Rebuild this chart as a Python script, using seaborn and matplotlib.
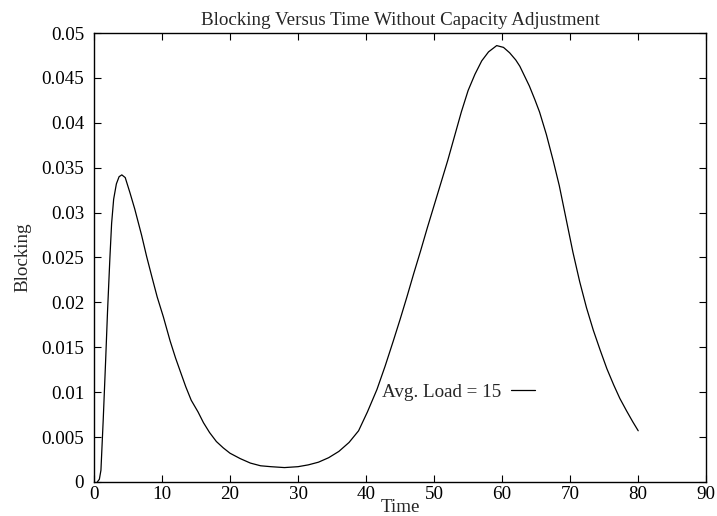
import matplotlib
matplotlib.use("Agg")
import matplotlib.pyplot as plt
import seaborn as sns
import pandas as pd

time = [0.5, 0.8, 1.03, 1.37, 1.72, 2.0, 2.35, 2.6, 2.9, 3.3, 3.7, 4.1, 4.6, 5.3,
        6.0, 7.0, 7.75, 8.5, 9.3, 10.2, 11.2, 12.0, 12.7, 13.5, 14.3, 15.3, 16.1,
        17.0, 18.0, 19.0, 20.0, 21.5, 23.0, 24.5, 26.0, 28.0, 30.0, 31.5, 33.0,
        34.5, 36.0, 37.5, 38.9, 40.2, 41.6, 42.8, 44.0, 45.0, 46.0, 47.0, 48.0,
        49.0, 50.0, 51.0, 52.0, 53.0, 54.0, 55.0, 56.0, 57.0, 58.0, 59.2, 60.2,
        61.1, 62.0, 62.6, 63.3, 64.0, 64.8, 65.5, 66.5, 67.5, 68.4, 69.4, 70.4,
        71.4, 72.4, 73.4, 74.4, 75.4, 76.4, 77.3, 78.3, 79.2, 80.0]
blocking = [0.0, 0.0003, 0.0013, 0.0070, 0.0135, 0.0190, 0.0250, 0.0288, 0.0315,
            0.0332, 0.0340, 0.0342, 0.0339, 0.0322, 0.0304, 0.0275, 0.0251, 0.0229,
            0.0206, 0.0184, 0.0157, 0.0138, 0.0123, 0.0106, 0.0091, 0.0078, 0.0066,
            0.0055, 0.0045, 0.0038, 0.0032, 0.0026, 0.0021, 0.0018, 0.0017, 0.0016,
            0.0017, 0.0019, 0.0022, 0.0027, 0.0034, 0.0044, 0.0057, 0.0078, 0.0103,
            0.0129, 0.0157, 0.0181, 0.0206, 0.0232, 0.0257, 0.0283, 0.0308, 0.0333,
            0.0358, 0.0385, 0.0412, 0.0436, 0.0454, 0.0469, 0.0479, 0.0486, 0.0484,
            0.0478, 0.0470, 0.0463, 0.0452, 0.0441, 0.0426, 0.0412, 0.0387, 0.0358,
            0.0330, 0.0293, 0.0256, 0.0223, 0.0194, 0.0169, 0.0147, 0.0126, 0.0108,
            0.0093, 0.0079, 0.0067, 0.0057]
series_label = "Avg. Load = 15"
x_ticks = [0, 10, 20, 30, 40, 50, 60, 70, 80, 90]
y_ticks = [0, 0.005, 0.01, 0.015, 0.02, 0.025, 0.03, 0.035, 0.04, 0.045, 0.05]
y_tick_labels = ["0", "0.005", "0.01", "0.015", "0.02", "0.025", "0.03", "0.035",
                 "0.04", "0.045", "0.05"]

df = pd.DataFrame({"Time": time, "Blocking": blocking, "series": series_label})

sns.set_style("white")
plt.rcParams["font.family"] = ["Liberation Serif", "DejaVu Serif"]
FS = 13.7
plt.rcParams["font.size"] = FS

fig = plt.figure(figsize=(7.17, 5.16), dpi=100)
ax = fig.add_axes([0.131, 0.066, 0.854, 0.870])

sns.lineplot(data=df, x="Time", y="Blocking", hue="series", palette=["black"],
             linewidth=0.9, ax=ax, legend=True)

ax.set_xlim(0, 90)
ax.set_ylim(0, 0.05)
ax.set_xticks(x_ticks)
ax.set_yticks(y_ticks)
ax.set_yticklabels(y_tick_labels)
ax.tick_params(direction="in", length=5, width=0.8, colors="black",
               top=True, right=True, bottom=True, left=True, labelsize=FS)
ax.tick_params(axis="y", pad=7)
ax.tick_params(axis="x", pad=3)
for s in ax.spines.values():
    s.set_visible(True)
    s.set_color("black")
    s.set_linewidth(1.0)

ax.set_title("Blocking Versus Time Without Capacity Adjustment", fontsize=FS, pad=6)
ax.set_xlabel("Time", fontsize=FS, labelpad=-3)
ax.set_ylabel("Blocking", fontsize=FS, labelpad=7)

leg = ax.legend(loc="center right", bbox_to_anchor=(0.7206, 0.2), frameon=False,
                markerfirst=False, handlelength=1.25, handletextpad=0.55,
                borderpad=0, borderaxespad=0, fontsize=FS)

fig.savefig("out.png", dpi=100)
